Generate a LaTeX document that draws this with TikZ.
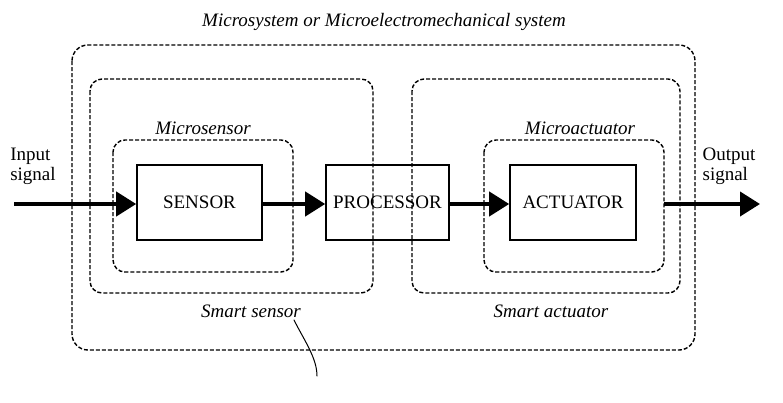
\documentclass[tikz,border=0pt]{standalone}
\usepackage{fontspec}
\setmainfont{Liberation Serif}
\usetikzlibrary{arrows.meta,positioning,calc}
\begin{document}
\begin{tikzpicture}[x=1pt,y=-1pt,
  dbox/.style={draw, dash pattern=on 4pt off 2pt, line width=1.4pt, rounded corners=12pt},
  sbox/.style={draw, line width=1.6pt, minimum width=#1, minimum height=75pt, inner sep=0pt, font=\fontsize{19}{20}\selectfont},
  flow/.style={line width=4pt, -{Triangle[length=20pt,width=24pt]}},
  lbl/.style={font=\itshape\fontsize{19}{20}\selectfont, inner sep=0pt},
  sig/.style={font=\fontsize{19}{20}\selectfont, align=left, inner sep=0pt}]
\useasboundingbox (0,0) rectangle (783,402);
% dashed enclosures
\draw[dbox, rounded corners=16pt] (72,45) rectangle (695,350);
\draw[dbox] (90,79) rectangle (373,293);
\draw[dbox] (412,79) rectangle (680,293);
\draw[dbox] (113,140) rectangle (293,272);
\draw[dbox] (484,140) rectangle (664,272);
\coordinate (micAe) at (664,204);
% blocks
\node[sbox=125pt] (sensor) at (199.5,202.5) {SENSOR};
\node[sbox=123pt] (proc) at (387.5,202.5) {PROCESSOR};
\node[sbox=126pt] (act) at (573,202.5) {ACTUATOR};
% labels
\node[lbl] (title) at (384,22) {Microsystem or Microelectromechanical system};
\node[lbl] (lmsens) at (203,128) {Microsensor};
\node[lbl] (lmact) at (580,128) {Microactuator};
\node[lbl] (lssens) at (251,311) {Smart sensor};
\node[lbl] (lsact) at (551,311) {Smart actuator};
\node[sig] (insig) at (33,166) {Input\\signal};
\node[sig] (outsig) at (729,166) {Output\\signal};
% signal flow
\coordinate (in) at (14,204);
\coordinate (out) at (760,204);
\draw[flow] (in) -- (sensor.west |- in);
\draw[flow] (sensor.east |- in) -- (proc.west |- in);
\draw[flow] (proc.east |- in) -- (act.west |- in);
\draw[flow] (micAe) -- (out);
% handwritten mark
\draw[line width=1pt, line cap=round] (294,320) .. controls (304,340) and (317,358) .. (317,376);
\end{tikzpicture}
\end{document}
